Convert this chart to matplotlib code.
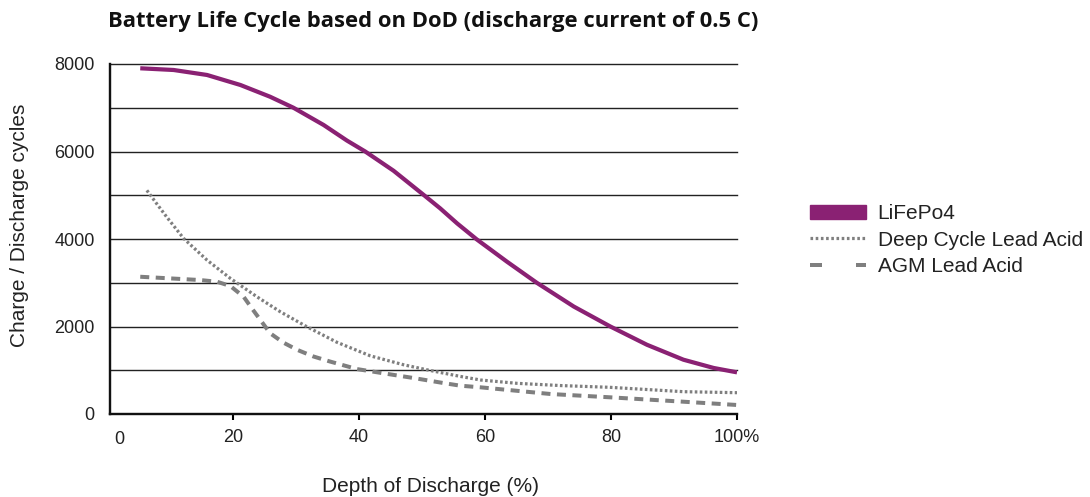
import matplotlib
matplotlib.use("Agg")
import matplotlib.pyplot as plt
from matplotlib.lines import Line2D
from matplotlib.patches import Patch
import matplotlib.transforms as mtransforms

plt.rcParams['lines.scale_dashes'] = False
plt.rcParams['font.family'] = ['Liberation Sans', 'DejaVu Sans']

# ---- data ----
lfp_x = [5.3, 10.6, 15.9, 21.2, 25.9, 29.6, 34.4, 38.1, 41.0, 45.5, 50.3, 52.9,
         55.6, 58.7, 63.5, 68.2, 74.1, 79.9, 85.7, 91.5, 96.3, 100]
lfp_y = [7902, 7863, 7749, 7520, 7252, 7001, 6606, 6250, 6000, 5560, 5005, 4700,
         4355, 3991, 3481, 3002, 2456, 2000, 1583, 1241, 1052, 952]

deep_x = [6.35, 7.9, 9.5, 12.2, 15.9, 19.6, 23.8, 27.5, 31.7, 36.5, 41.8, 47.1,
          51.3, 56.1, 59.3, 65.1, 72.0, 79.8, 91.5, 100]
deep_y = [5112, 4809, 4503, 4011, 3517, 3100, 2681, 2339, 1998, 1640, 1330, 1125,
          995, 859, 777, 701, 650, 610, 510, 487]

agm_x = [5.3, 10.0, 14.8, 17.5, 19.6, 21.7, 23.0, 25.9, 28.0, 30.2, 32.8, 35.4,
         39.7, 43.9, 48.7, 53.4, 56.1, 59.3, 70.4, 79.8, 91.5, 100]
agm_y = [3137, 3100, 3062, 3023, 2925, 2681, 2417, 1847, 1633, 1467, 1314, 1200,
         1027, 930, 822, 708, 647, 610, 457, 382, 281, 206]

xticks = [20, 40, 60, 80, 100]
xticklabels = ["20", "40", "60", "80", "100%"]
yticks = [0, 2000, 4000, 6000, 8000]
grid_levels = [1000, 2000, 3000, 4000, 5000, 6000, 7000, 8000]
series_names = ["LiFePo4", "Deep Cycle Lead Acid", "AGM Lead Acid"]

title = "Battery Life Cycle based on DoD (discharge current of 0.5 C)"
xlabel = "Depth of Discharge (%)"
ylabel = "Charge / Discharge cycles"

PURPLE = "#8a2173"
GREY = "#7f7f7f"
TXT = "#222222"
PX = 0.72  # points per pixel at 100 dpi

fig = plt.figure(figsize=(10.9, 4.97), dpi=100)
W, H = 1090, 497
ax = fig.add_axes([110 / W, 1 - 414 / H, (737 - 110) / W, (414 - 64) / H])
ax.set_xlim(0.5, 100)
ax.set_ylim(0, 8000)

for g in grid_levels:
    ax.axhline(g, color="#222222", lw=1.4 * PX, zorder=1, clip_on=False)

ax.plot(lfp_x, lfp_y, color=PURPLE, lw=4.2 * PX, solid_capstyle="butt",
        solid_joinstyle="round", zorder=3)
ax.plot(deep_x, deep_y, color=GREY, lw=3.2 * PX, dashes=(2.6 * PX, 2.4 * PX), zorder=2)
ax.plot(agm_x, agm_y, color=GREY, lw=4.0 * PX, dashes=(9 * PX, 6.5 * PX), zorder=2)

for s in ["top", "right"]:
    ax.spines[s].set_visible(False)
for s in ["left", "bottom"]:
    ax.spines[s].set_linewidth(2.4 * PX)
    ax.spines[s].set_color("#111111")

ax.set_xticks(xticks)
ax.set_xticklabels(xticklabels)
ax.set_yticks(yticks)
ax.set_yticklabels([str(v) for v in yticks])
ax.tick_params(axis="x", direction="out", length=4, width=1.5, pad=7,
               labelsize=13, labelcolor=TXT)
ax.tick_params(axis="y", length=0, pad=11, labelsize=13, labelcolor=TXT)

# stray "0" under the origin
trans = mtransforms.blended_transform_factory(ax.transData, fig.transFigure)
ax.text(2.0, 1 - 439 / H, "0", transform=trans, ha="center", va="center",
        fontsize=13, color=TXT)

fig.text(431 / W, 1 - 486 / H, xlabel, ha="center", va="center", fontsize=15, color=TXT)
fig.text(20 / W, 1 - 225 / H, ylabel, ha="center", va="center", rotation=90,
         fontsize=15, color=TXT)
fig.text(108 / W, 1 - 22 / H, title, ha="left", va="center", fontsize=15.8,
         fontweight="bold", color="#111111", family=["Open Sans", "DejaVu Sans"])

handles = [
    Patch(facecolor=PURPLE, edgecolor=PURPLE),
    Line2D([0], [0], color=GREY, lw=3.2 * PX, dashes=(2.6 * PX, 2.6 * PX)),
    Line2D([0], [0], color=GREY, lw=4.0 * PX, dashes=(12 * PX, 34 * PX)),
]
leg = fig.legend(handles, series_names, loc="center left",
                 bbox_to_anchor=(810 / W, 1 - 240 / H), frameon=False,
                 prop={"size": 15},
                 handlelength=2.7, handleheight=0.65, handletextpad=0.55,
                 labelspacing=0.36, borderaxespad=0, borderpad=0)
for t in leg.get_texts():
    t.set_color(TXT)

fig.savefig("out.png", dpi=100)
